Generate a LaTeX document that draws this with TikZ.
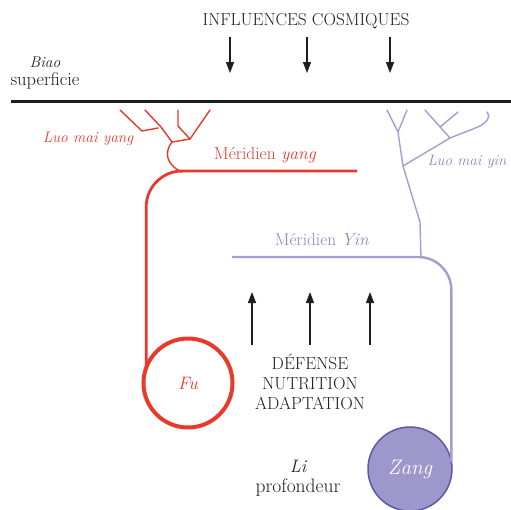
\documentclass[tikz,border=0pt]{standalone}
\usepackage{fontspec}
\usetikzlibrary{arrows.meta,positioning}
\definecolor{yangred}{HTML}{E8392C}
\definecolor{yinblue}{HTML}{A29ED4}
\definecolor{yintext}{HTML}{8884C2}
\definecolor{zangfill}{HTML}{9C98CC}
\definecolor{zangdraw}{HTML}{5E58A8}
\definecolor{textgray}{HTML}{1E1E1E}
\begin{document}
\begin{tikzpicture}[x=1pt,y=-1pt]
    % Styles
        \tikzstyle{label} = [text=textgray, font=\fontsize{15}{19}\selectfont, inner sep=0pt, align=center]
        \tikzstyle{yanglabel} = [label, text=yangred]
        \tikzstyle{yinlabel} = [label, text=yintext]
        \tikzstyle{organ} = [circle, inner sep=0pt, outer sep=0pt]
        \tikzstyle{flux} = [draw=textgray, line width=1.3pt, -{Triangle[length=11pt,width=8pt]}]
        \tikzstyle{yang} = [draw=yangred, line width=2.8pt]
        \tikzstyle{yin} = [draw=yinblue, line width=2.4pt]
        \tikzstyle{tree} = [line width=1.4pt, line join=round, line cap=round]
        \useasboundingbox (0,0) rectangle (511,509);
    % surface
        \node [label, font=\fontsize{17.3}{20}\selectfont] (cosmos) at (306,21) {INFLUENCES COSMIQUES};
        \node [label, font=\fontsize{15.5}{18}\itshape] (biao) at (45,62) {Biao};
        \node [label, font=\fontsize{18.5}{20}\selectfont, below = 5pt of biao] (superficie) {superficie};
        \draw [line width=3pt, textgray] (11,101) -- (511,101);
        \foreach \x [count=\i] in {230,307,390} {
            \coordinate (haut\i) at (\x,37);
            \coordinate (bas\i) at (\x,73);
            \path [flux] (haut\i) -- (bas\i);
        }
    % organs
        \node [organ, minimum size=89pt, draw=yangred, line width=4pt] (fu) at (188,383)
            {\fontsize{18}{20}\itshape\color{yangred}Fu};
        \node [organ, minimum size=84pt, draw=zangdraw, fill=zangfill, line width=1.5pt] (zang) at (410,469)
            {\fontsize{21}{24}\itshape\color{white}Zang};
    % meridians
        \coordinate (yangend) at (357,171);
        \coordinate (yinstart) at (232,257);
        \path [yang, rounded corners=36pt] (yangend) -| (fu.160);
        \path [yin, rounded corners=33pt] (yinstart) -| (zang.10);
        \node [yanglabel, font=\fontsize{17.5}{20}\selectfont] (meryang) at (265,155) {Méridien \textit{yang}};
        \node [yinlabel, font=\fontsize{17.3}{20}\selectfont] (meryin) at (322,240) {Méridien \textit{Yin}};
    % luo mai
        \node [yanglabel, font=\fontsize{15.3}{19}\itshape] (luoyang) at (88,139) {Luo mai yang};
        \node [yinlabel, font=\fontsize{15}{19}\itshape] (luoyin) at (467,162) {Luo mai yin};
        \draw [tree, yangred] (120,110) -- (142,131) -- (158,128)
            (145,110) -- (161,127) -- (172,142)
            (178,110) -- (178,126) -- (190,139)
            (210,110) -- (190,139) -- (172,142)
            (172,142) .. controls (164,152) and (166,165) .. (182,172);
        \draw [tree, yinblue] (421,257) -- (420,222) -- (403,166) -- (398,132) -- (387,110)
            (398,132) -- (407,110)
            (403,166) -- (450,138) -- (478,127) .. controls (488,122) and (491,116) .. (487,112)
            (450,138) -- (425,110)
            (440,127) -- (458,112);
    % depth
        \foreach \x [count=\i] in {252,310,370} {
            \coordinate (source\i) at (\x,345);
            \coordinate (cible\i) at (\x,292);
            \path [flux] (source\i) -- (cible\i);
        }
        \node [label, font=\fontsize{17.4}{20}\selectfont] (fonctions) at (310,382) {DÉFENSE\\NUTRITION\\ADAPTATION};
        \node [label, font=\fontsize{18}{20}\itshape] (li) at (298,466) {Li};
        \node [label, font=\fontsize{19.5}{22}\selectfont, below = 6pt of li] (profondeur) {profondeur};
\end{tikzpicture}
\end{document}
